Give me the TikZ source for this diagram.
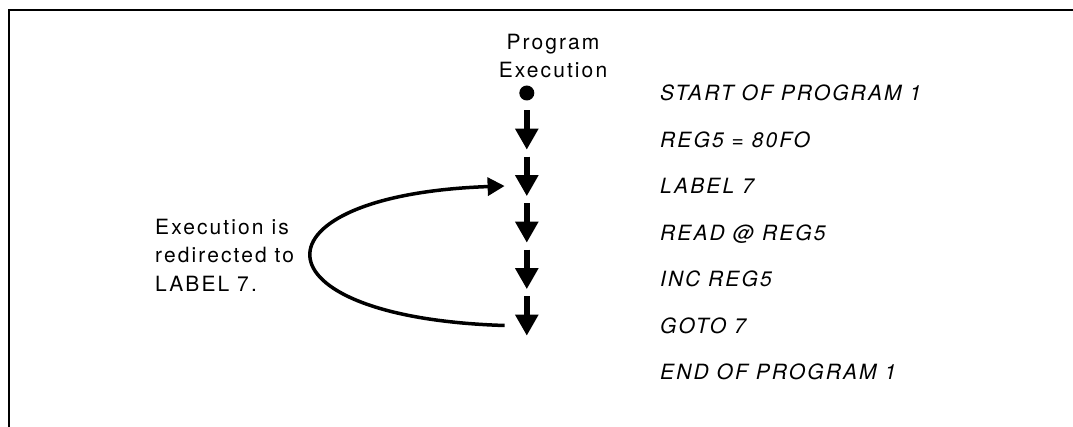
\documentclass[tikz,border=0pt]{standalone}
\usepackage{fontspec}
\setmainfont{TeX Gyre Heros}[LetterSpace=10]
\usetikzlibrary{positioning, arrows.meta}
\tikzset{
    flow/.style={line width=5.5pt, -{Triangle[width=22pt,length=21pt]}, shorten >=7pt}, % the thick downward arrows
    jump/.style={line width=3.5pt, -{Triangle[width=18pt,length=17pt]}}, % the goto going back up
    slot/.style={minimum width=44pt, minimum height=34pt, inner sep=0pt}, % empty place beside each line
    dot/.style={circle, fill, minimum size=15pt, inner sep=0pt},
    prog/.style={font=\fontsize{21}{25}\selectfont\itshape, text height=15.1pt, text depth=0pt, inner sep=0pt, anchor=west}, % program lines
    note/.style={font=\fontsize{21}{28.5}\selectfont, inner sep=0pt},
}

\begin{document}
\begin{tikzpicture}[x=1pt, y=1pt, node distance=46.5pt, on grid]
    \useasboundingbox (0,0) rectangle (1073,-427);
    \draw[line width=2.5pt] (9,-427) -- (9,-10) -- (1073,-10);

    % the program
    \node[prog] (l1) at (660,-93) {START OF PROGRAM 1};
    \node[prog, below=of l1.west, anchor=west] (l2) {REG5 = 80FO};
    \node[prog, below=of l2.west, anchor=west] (l3) {LABEL 7};
    \node[prog, below=of l3.west, anchor=west] (l4) {READ @ REG5};
    \node[prog, below=of l4.west, anchor=west] (l5) {INC REG5};
    \node[prog, below=of l5.west, anchor=west] (l6) {GOTO 7};
    \node[prog, below=of l6.west, anchor=west] (l7) {END OF PROGRAM 1};

    % execution steps
    \node[slot, left=111pt of l1.west] (a1) {};
    \node[slot, below=of a1] (a2) {};
    \node[slot, below=of a2] (a3) {};
    \node[slot, below=of a3] (a4) {};
    \node[slot, below=of a4] (a5) {};
    \node[slot, below=of a5] (a6) {};
    \node[dot] (start) at (a1) {};

    \node[note, align=center] (title) at (553,-56) {Program\\Execution};
    \node[note, align=left, anchor=west] (why) at (155,-255) {Execution is\\redirected to\\LABEL 7.};

    \draw[flow] (a1.south) -- (a2.south);
    \draw[flow] (a2.south) -- (a3.south);
    \draw[flow] (a3.south) -- (a4.south);
    \draw[flow] (a4.south) -- (a5.south);
    \draw[flow] (a5.south) -- (a6.south);
    \draw[jump] (a6.west) .. controls +(-257,8) and +(-257,-9) .. (a3.west);
\end{tikzpicture}
\end{document}
